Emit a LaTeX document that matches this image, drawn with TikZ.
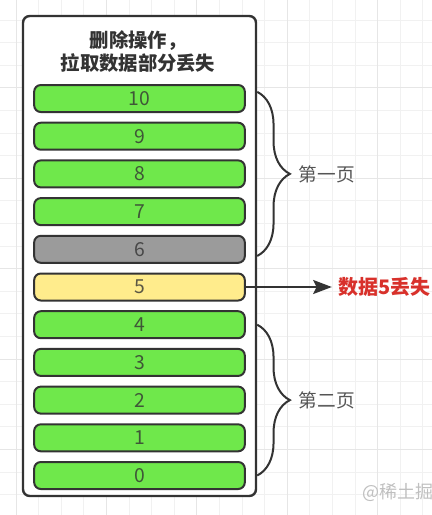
\documentclass[tikz,border=0pt]{standalone}
\usepackage{fontspec}
\setmainfont{Noto Sans CJK SC}
\usetikzlibrary{arrows.meta,positioning,decorations.pathreplacing}
\definecolor{Ink}{HTML}{333333}
\definecolor{LabelGray}{HTML}{555555}
\definecolor{BarGreen}{HTML}{6FE84B}
\definecolor{BarGray}{HTML}{9B9B9B}
\definecolor{BarYellow}{HTML}{FFEC8C}
\definecolor{LostRed}{HTML}{D8312B}
\definecolor{GridMinor}{HTML}{F1F1F1}
\definecolor{GridMajor}{HTML}{E6E6E6}
\tikzset{
  bar/.style={draw=Ink,line width=1.5pt,rounded corners=5pt,
    minimum width=158pt,minimum height=20.25pt,inner sep=0pt,
    font=\fontsize{14.5}{16}\selectfont,text=Ink,text opacity=0.8},
  okbar/.style={bar,fill=BarGreen},
  delbar/.style={bar,fill=BarGray},
  lostbar/.style={bar,fill=BarYellow},
  pagebrace/.style={draw=Ink,line width=1.5pt,decorate,
    decoration={brace,amplitude=24.5pt}},
  pagelabel/.style={font=\fontsize{14}{16}\selectfont,text=LabelGray,inner sep=0pt}
}

\begin{document}
\begin{tikzpicture}[x=0.75pt,y=-0.75pt]
    \useasboundingbox (0,0) rectangle (432,515);
    \foreach \i in {0,...,19}
      \draw[GridMinor,line width=0.6pt] ({16+22.6*\i},0) -- ({16+22.6*\i},515);
    \foreach \j in {0,...,23}
      \draw[GridMinor,line width=0.6pt] (0,{-2.6+22.6*\j}) -- (432,{-2.6+22.6*\j});
    \foreach \i in {0,4,...,16}
      \draw[GridMajor,line width=0.7pt] ({16+22.6*\i},0) -- ({16+22.6*\i},515);
    \foreach \j in {4,8,...,20}
      \draw[GridMajor,line width=0.7pt] (0,{-2.6+22.6*\j}) -- (432,{-2.6+22.6*\j});

    \node[draw=Ink,fill=white,line width=1.8pt,rounded corners=5pt,
          minimum width=174.75pt,minimum height=360pt,inner sep=0pt]
      (frame) at (139.5,256) {};
    \node[align=center,font=\bfseries\fontsize{14.5}{17.25}\selectfont,text=Ink]
      (title) at (138,51.5) {删除操作，\\拉取数据部分丢失};

    \foreach \n/\kind in {10/okbar,9/okbar,8/okbar,7/okbar,6/delbar,5/lostbar,
                          4/okbar,3/okbar,2/okbar,1/okbar,0/okbar}
      \node[\kind] (b\n) at (139.5,{475.5-37.7*\n}) {\n};

    \draw[pagebrace] ([yshift=5pt]frame.east |- b10.center)
      -- node[pagelabel,midway,anchor=west,xshift=30.5pt] (p1) {第一页}
      ([yshift=-5pt]frame.east |- b6.center);
    \draw[pagebrace] (frame.east |- b4.center)
      -- node[pagelabel,midway,anchor=west,xshift=30.5pt] (p2) {第二页}
      (frame.east |- b0.center);

    \node[font=\bfseries\fontsize{15}{17}\selectfont,text=LostRed,inner sep=0pt,
          right=69pt of b5] (lost) {数据5丢失};
    \draw[-{Stealth[length=14pt,width=10.5pt,inset=2.5pt]},line width=1.5pt,draw=Ink,
          shorten >=4.5pt] (b5) -- (lost);

    \node[font=\fontsize{13.5}{15}\selectfont,text=black!25,anchor=west,inner sep=0pt]
      (mark) at (362,492) {@稀土掘};
  \end{tikzpicture}
\end{document}
